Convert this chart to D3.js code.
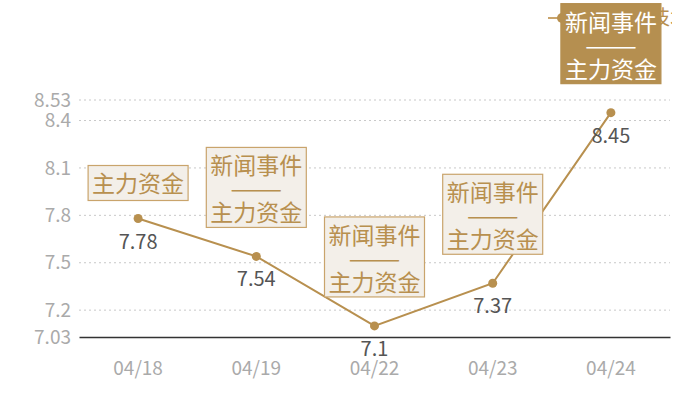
<!DOCTYPE html>
<html>
<head>
<meta charset="utf-8">
<script src="https://cdn.jsdelivr.net/npm/d3@7"></script>
<style>
  body { margin: 0; background: #fff; }
  svg { display: block; overflow: hidden; }
</style>
</head>
<body>
<svg width="672" height="400"></svg>
<script>
const dates = ["04/18", "04/19", "04/22", "04/23", "04/24"];
const prices = [7.78, 7.54, 7.1, 7.37, 8.45];
const yTicks = [7.03, 7.2, 7.5, 7.8, 8.1, 8.4, 8.53];
const notes = [["主力资金"], ["新闻事件", "主力资金"], ["新闻事件", "主力资金"], ["新闻事件", "主力资金"], ["新闻事件", "主力资金"]];
const highlighted = [false, false, false, false, true];
const legendLabel = "股价走势技术面";

const margin = { top: 100, right: 2, bottom: 63, left: 79 };
const font = "'Noto Sans CJK SC', 'Noto Sans', sans-serif";
const gold = "#b8904f";

var svg = d3.select("svg");
const W = +svg.attr("width"), H = +svg.attr("height");

var x = d3.scaleBand().domain(dates).range([margin.left, W - margin.right]);
var y = d3.scaleLinear().domain([7.03, 8.53]).range([H - margin.bottom, margin.top]);

// grid
svg.append("g").selectAll("line").data(yTicks.filter(d => d > 7.03)).enter().append("line")
  .attr("x1", margin.left).attr("x2", W - margin.right)
  .attr("y1", d => y(d)).attr("y2", d => y(d))
  .attr("stroke", "#c8c8c8").attr("stroke-dasharray", "2,3");

// y axis labels
var yAxis = svg.append("g")
  .attr("transform", "translate(" + (margin.left - 8) + ",0)")
  .call(d3.axisLeft(y).tickValues(yTicks).tickSize(0).tickPadding(0).tickFormat(d => String(d)));
yAxis.select(".domain").remove();
yAxis.selectAll("text").attr("fill", "#aaa").style("font-size", "19px").style("font-family", font);

// x axis
var xAxis = svg.append("g")
  .attr("transform", "translate(0," + y(7.03) + ")")
  .call(d3.axisBottom(x).tickSize(0).tickPadding(25));
xAxis.select(".domain").attr("stroke", "#333").attr("stroke-width", 1.5);
xAxis.selectAll("text").attr("fill", "#aaa").style("font-size", "19px").style("font-family", font);

// legend (mostly hidden behind last note)
var lg = svg.append("g").attr("transform", "translate(548,18)");
lg.append("line").attr("x1", 0).attr("x2", 26).attr("stroke", "#c9a46c").attr("stroke-width", 2);
lg.append("circle").attr("cx", 14).attr("r", 5).attr("fill", gold);
lg.append("text").attr("x", 22).attr("dy", "0.35em").attr("fill", gold)
  .style("font-size", "20px").style("font-family", font).text(legendLabel);

// line
var line = d3.line().x((d, i) => x(dates[i]) + x.bandwidth() / 2).y(d => y(d));
svg.append("path").datum(prices).attr("d", line)
  .attr("fill", "none").attr("stroke", gold).attr("stroke-width", 2);

svg.append("g").selectAll("circle").data(prices).enter().append("circle")
  .attr("cx", (d, i) => x(dates[i]) + x.bandwidth() / 2)
  .attr("cy", d => y(d)).attr("r", 4.5).attr("fill", gold);

svg.append("g").selectAll("text").data(prices).enter().append("text")
  .attr("x", (d, i) => x(dates[i]) + x.bandwidth() / 2)
  .attr("y", d => y(d) + 30)
  .attr("text-anchor", "middle")
  .attr("fill", "#555").style("font-size", "20px").style("font-family", font)
  .text(d => d);

// notes
notes.forEach((lines, i) => {
  var cx = x(dates[i]) + x.bandwidth() / 2;
  var h = lines.length == 1 ? 35 : 80;
  var bottom = y(prices[i]) - (lines.length == 1 ? 18 : 29);
  var g = svg.append("g").attr("transform", "translate(" + cx + "," + (bottom - h) + ")");
  var hl = highlighted[i];
  g.append("rect").attr("x", -50).attr("y", 0).attr("width", 100).attr("height", h)
    .attr("fill", hl ? "#b58f50" : "#f3efe9")
    .attr("stroke", hl ? "#b58f50" : "#c9a46c").attr("stroke-width", 1.2);
  var rows = lines.length == 1 ? lines : [lines[0], "——", lines[1]];
  var ys = lines.length == 1 ? [18] : [19, 42, 66];
  rows.forEach((t, k) => {
    var txt = g.append("text").attr("x", 0).attr("y", ys[k]).attr("dy", "0.35em")
      .attr("text-anchor", "middle")
      .attr("fill", hl ? "#fff" : gold)
      .style("font-size", "23px").style("font-family", font)
      .text(t);
    if (t == "——") txt.attr("textLength", 52).attr("lengthAdjust", "spacingAndGlyphs");
  });
});
</script>
</body>
</html>
